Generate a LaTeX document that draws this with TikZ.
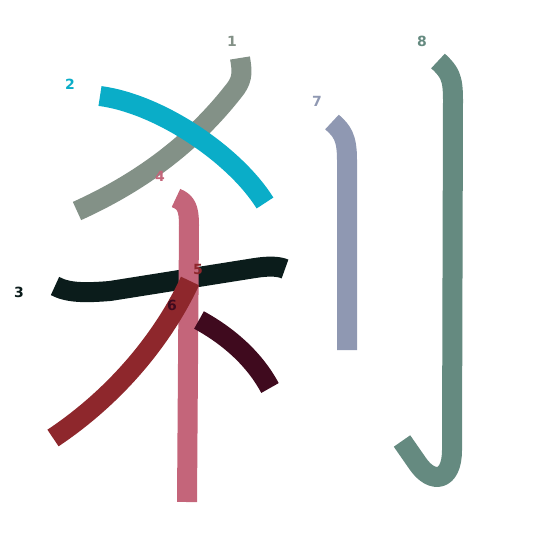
\documentclass[tikz,border=0pt]{standalone}
\usepackage{fontspec}
\setmainfont{DejaVu Sans}
\definecolor{cA}{RGB}{131,145,135}
\definecolor{cB}{RGB}{10,173,200}
\definecolor{cC}{RGB}{11,28,27}
\definecolor{cD}{RGB}{196,101,122}
\definecolor{cE}{RGB}{142,39,44}
\definecolor{cF}{RGB}{63,10,30}
\definecolor{cG}{RGB}{143,152,178}
\definecolor{cH}{RGB}{101,138,128}
\tikzset{
  stroke/.style={line width=20pt, line cap=butt, line join=round},
  num/.style={font=\bfseries\fontsize{14pt}{14pt}\selectfont, inner sep=0pt}
}
\begin{document}
\begin{tikzpicture}[x=1pt,y=-1pt]
\useasboundingbox (0,0) rectangle (545,545);
% stroke 1
\draw[stroke,cA] (240,58) .. controls (242,70) and (243,78) .. (236,88) .. controls (200,135) and (150,178) .. (77,211);
% stroke 2
\draw[stroke,cB] (100,96) .. controls (160,104) and (235,155) .. (265,203);
% stroke 3
\draw[stroke,cC] (55,286) .. controls (68,293) and (85,293) .. (110,291) -- (255,268) .. controls (268,266) and (278,266) .. (285,269);
% stroke 4
\draw[stroke,cD] (176,198) .. controls (186,202) and (189,208) .. (189,225) -- (187,502);
% stroke 5
\draw[stroke,cE] (190,281) .. controls (160,345) and (110,400) .. (53,438);
% stroke 6
\draw[stroke,cF] (199,320) .. controls (230,337) and (255,360) .. (270,388);
% stroke 7
\draw[stroke,cG] (332,122) .. controls (342,131) and (347,137) .. (347,160) -- (347,350);
% stroke 8
\draw[stroke,cH] (438,61) .. controls (450,72) and (453,78) .. (453,100) -- (452,450) .. controls (452,482) and (432,484) .. (418,464) -- (402,441);
% labels
\node[num,cA] (n1) at (232,41) {1};
\node[num,cB] (n2) at (70,84) {2};
\node[num,cC] (n3) at (19,292) {3};
\node[num,cD] (n4) at (160,176) {4};
\node[num,cE] (n5) at (198,269) {5};
\node[num,cF] (n6) at (172,305) {6};
\node[num,cG] (n7) at (317,101) {7};
\node[num,cH] (n8) at (422,41) {8};
\end{tikzpicture}
\end{document}
